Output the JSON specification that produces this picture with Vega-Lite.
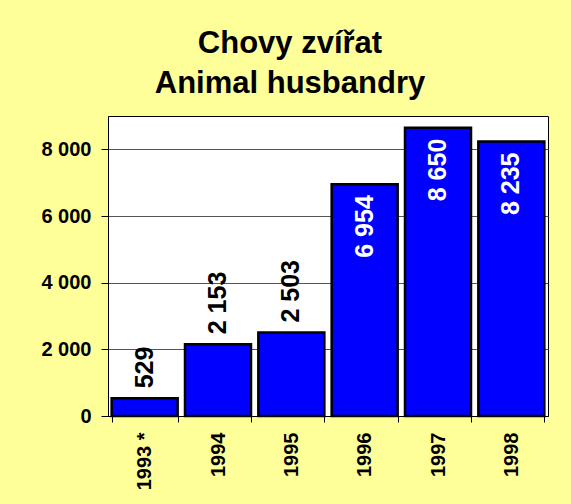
{
  "$schema": "https://vega.github.io/schema/vega-lite/v6.json",
  "width": 440,
  "height": 300,
  "autosize": {"type": "none"},
  "padding": {"left": 108, "top": 116, "right": 23, "bottom": 88},
  "background": "#FFFF99",
  "config": {
    "locale": {"number": {"decimal": ",", "thousands": " ", "grouping": [3], "currency": ["", ""]}},
    "font": "Liberation Sans",
    "view": {"fill": "white", "stroke": "black", "strokeWidth": 1}
  },
  "title": {
    "text": ["Chovy zvířat", "Animal husbandry"],
    "font": "Liberation Sans",
    "fontSize": 31,
    "fontWeight": "bold",
    "color": "black",
    "lineHeight": 40,
    "anchor": "middle",
    "dx": -38,
    "offset": 16
  },
  "data": {
    "values": [
      {"year": "1993 *", "value": 529},
      {"year": "1994", "value": 2153},
      {"year": "1995", "value": 2503},
      {"year": "1996", "value": 6954},
      {"year": "1997", "value": 8650},
      {"year": "1998", "value": 8235}
    ]
  },
  "encoding": {
    "x": {
      "field": "year",
      "type": "nominal",
      "sort": null,
      "scale": {"paddingInner": 0.1, "paddingOuter": 0.05},
      "axis": {
        "title": null,
        "labelAngle": -90,
        "labelFontSize": 20,
        "labelFontWeight": "bold",
        "labelColor": "black",
        "labelPadding": 10,
        "tickBand": "extent",
        "tickSize": 6,
        "tickColor": "black",
        "domainColor": "black",
        "domainWidth": 1
      }
    },
    "y": {
      "field": "value",
      "type": "quantitative",
      "scale": {"domain": [0, 9000], "nice": false},
      "axis": {
        "title": null,
        "values": [0, 2000, 4000, 6000, 8000],
        "format": ",d",
        "labelFontSize": 20,
        "labelFontWeight": "bold",
        "labelColor": "black",
        "labelPadding": 10,
        "tickSize": 7,
        "tickColor": "black",
        "domainColor": "black",
        "gridColor": "#555555",
        "gridWidth": 1
      }
    }
  },
  "layer": [
    {
      "mark": {"type": "bar", "color": "#0000FF", "stroke": "black", "strokeWidth": 2.5}
    },
    {
      "transform": [{"filter": "datum.value < 5000"}],
      "mark": {"type": "text", "angle": 270, "align": "left", "baseline": "middle", "dx": 10, "fontSize": 25, "fontWeight": "bold", "color": "black"},
      "encoding": {"text": {"field": "value", "type": "quantitative", "format": ",d"}}
    },
    {
      "transform": [{"filter": "datum.value >= 5000"}],
      "mark": {"type": "text", "angle": 270, "align": "right", "baseline": "middle", "dx": -11, "fontSize": 25, "fontWeight": "bold", "color": "white"},
      "encoding": {"text": {"field": "value", "type": "quantitative", "format": ",d"}}
    }
  ]
}
